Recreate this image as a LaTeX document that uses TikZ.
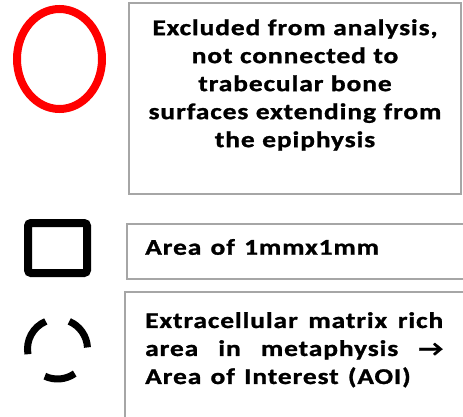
\documentclass[tikz,border=0pt]{standalone}
\usepackage{fontspec}
\setmainfont{Carlito}
\newfontfamily\lgfont{Carlito}[FakeStretch=1.22,LetterSpace=4,WordSpace=1.3,BoldFeatures={FakeBold=1.2}]
\definecolor{boxgray}{HTML}{A6A6A6}
\definecolor{symred}{HTML}{FF0000}
\begin{document}
\begin{tikzpicture}[x=1pt,y=-1pt,
  legbox/.style={draw=boxgray, line width=2pt},
  txt/.style={font=\lgfont\bfseries\fontsize{22.5}{28}\selectfont, inner sep=0pt}]
\useasboundingbox (0,0) rectangle (463,417);
% symbols
\draw[symred, line width=8pt] (59.5,59) ellipse [x radius=42.5, y radius=50];
\draw[black, line width=8pt, rounded corners=3pt] (28,223) rectangle (87,273);
\coordinate (cc) at (57.5,349);
\draw[black, line width=7pt] (cc) ++(-3:30) arc[start angle=-3, end angle=-67, radius=30];
\draw[black, line width=7pt] (cc) ++(-113:30) arc[start angle=-113, end angle=-190, radius=30];
\draw[black, line width=7pt] (cc) ++(-245:30) arc[start angle=-245, end angle=-305, radius=30];
% boxes
\draw[legbox] (129,3) rectangle (461,194);
\draw[legbox] (127,224) rectangle (470,279);
\draw[legbox] (125,292) rectangle (470,425);
% texts
\node[txt, text width=320, align=center] (t1) at (295,85)
  {Excluded from analysis,\\ not connected to\\ trabecular bone\\ surfaces extending from\\ the epiphysis};
\node[txt, anchor=west] (t2) at (145,247) {Area of 1mmx1mm};
\node[txt, text width=298, align=justify, anchor=north west] (t3) at (145,312)
  {Extracellular matrix rich\linebreak area in metaphysis →\linebreak Area of Interest (AOI)};
\end{tikzpicture}
\end{document}
